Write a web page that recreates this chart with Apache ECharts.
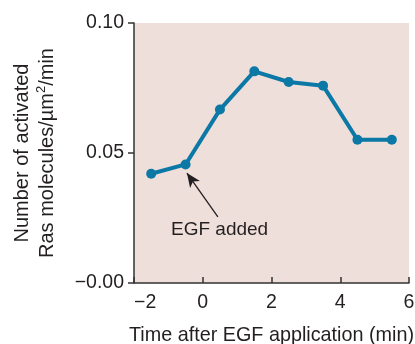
<!DOCTYPE html>
<html>
<head>
<meta charset="utf-8">
<script src="https://cdn.jsdelivr.net/npm/echarts@6/dist/echarts.min.js"></script>
<style>html,body{margin:0;padding:0;background:#fff}#c{width:415px;height:344px}</style>
</head>
<body>
<div id="c"></div>
<script>
// Data
const timeMin = [-1.5, -0.5, 0.5, 1.5, 2.5, 3.5, 4.5, 5.5];
const rasActivated = [0.042, 0.0456, 0.0667, 0.0814, 0.0773, 0.0759, 0.0551, 0.0551];
const xTicks = [-2, 0, 2, 4, 6];
const yTicks = [0, 0.05, 0.10];
const yTickLabels = ['\u22120.00', '0.05', '0.10'];
const annotationText = 'EGF added';
const arrowTail = [0.44, 0.0254];
const arrowHead = [-0.46, 0.0423];
const textPos = [0.49, 0.0205];

const font = '"Liberation Sans", Arial, sans-serif';
const lineColor = '#0b78a5';
const axisColor = '#333';
const textColor = '#231f20';

const chart = echarts.init(document.getElementById('c'), null, {renderer: 'canvas'});
chart.setOption({
  animation: false,
  textStyle: {fontFamily: font},
  grid: {left: 134, right: 6, top: 23, bottom: 61, show: true, backgroundColor: '#efdfda', borderWidth: 0,
         containLabel: false, outerBoundsMode: 'none'},
  xAxis: {
    type: 'value', min: xTicks[0], max: xTicks[xTicks.length - 1], interval: 2,
    name: 'Time after EGF application (min)', nameLocation: 'middle', nameGap: 43,
    nameTextStyle: {fontSize: 19.8, color: textColor, fontFamily: font},
    axisLine: {show: true, onZero: false, lineStyle: {color: axisColor, width: 1.5}},
    axisTick: {show: true, inside: true, length: 6, lineStyle: {color: axisColor, width: 1.5}},
    axisLabel: {fontSize: 19.5, color: textColor, margin: 10, fontFamily: font, alignMinLabel: 'left',
      formatter: v => (v < 0 ? '\u2212' + Math.abs(v) : String(v))},
    splitLine: {show: false}
  },
  yAxis: {
    type: 'value', min: yTicks[0], max: yTicks[yTicks.length - 1], interval: 0.05,
    name: '{a|Number of activated}\n{a|Ras molecules/\u00b5m}{s|2}{a|/min}',
    nameLocation: 'middle', nameGap: 74, nameRotate: 90,
    nameTextStyle: {fontSize: 20, color: textColor, fontFamily: font, lineHeight: 25,
      rich: {a: {fontSize: 20, color: textColor, fontFamily: font, lineHeight: 25},
             s: {fontSize: 13, color: textColor, fontFamily: font, verticalAlign: 'top', lineHeight: 25, padding: [0, 0, 9, 0]}}},
    axisLine: {show: true, onZero: false, lineStyle: {color: axisColor, width: 1.5}},
    axisTick: {show: true, inside: false, length: 6, lineStyle: {color: axisColor, width: 1.5}},
    axisLabel: {fontSize: 19.5, color: textColor, margin: 10, fontFamily: font,
      formatter: v => { const i = yTicks.findIndex(t => Math.abs(t - v) < 1e-9); return i >= 0 ? yTickLabels[i] : ''; }},
    splitLine: {show: false}
  },
  series: [{
    type: 'line',
    data: timeMin.map((t, i) => [t, rasActivated[i]]),
    symbol: 'circle', symbolSize: 10,
    lineStyle: {color: lineColor, width: 4},
    itemStyle: {color: lineColor},
    markLine: {
      silent: true, symbol: ['none', 'arrow'], symbolSize: [9, 14],
      lineStyle: {color: textColor, width: 1.3, type: 'solid'},
      label: {show: false},
      data: [[{coord: arrowTail}, {coord: arrowHead}]]
    },
    markPoint: {
      silent: true, symbol: 'circle', symbolSize: 1,
      itemStyle: {color: 'rgba(0,0,0,0)'},
      label: {show: true, formatter: annotationText, fontSize: 19, color: textColor, fontFamily: font, position: 'inside'},
      data: [{coord: textPos}]
    }
  }]
});
</script>
</body>
</html>
